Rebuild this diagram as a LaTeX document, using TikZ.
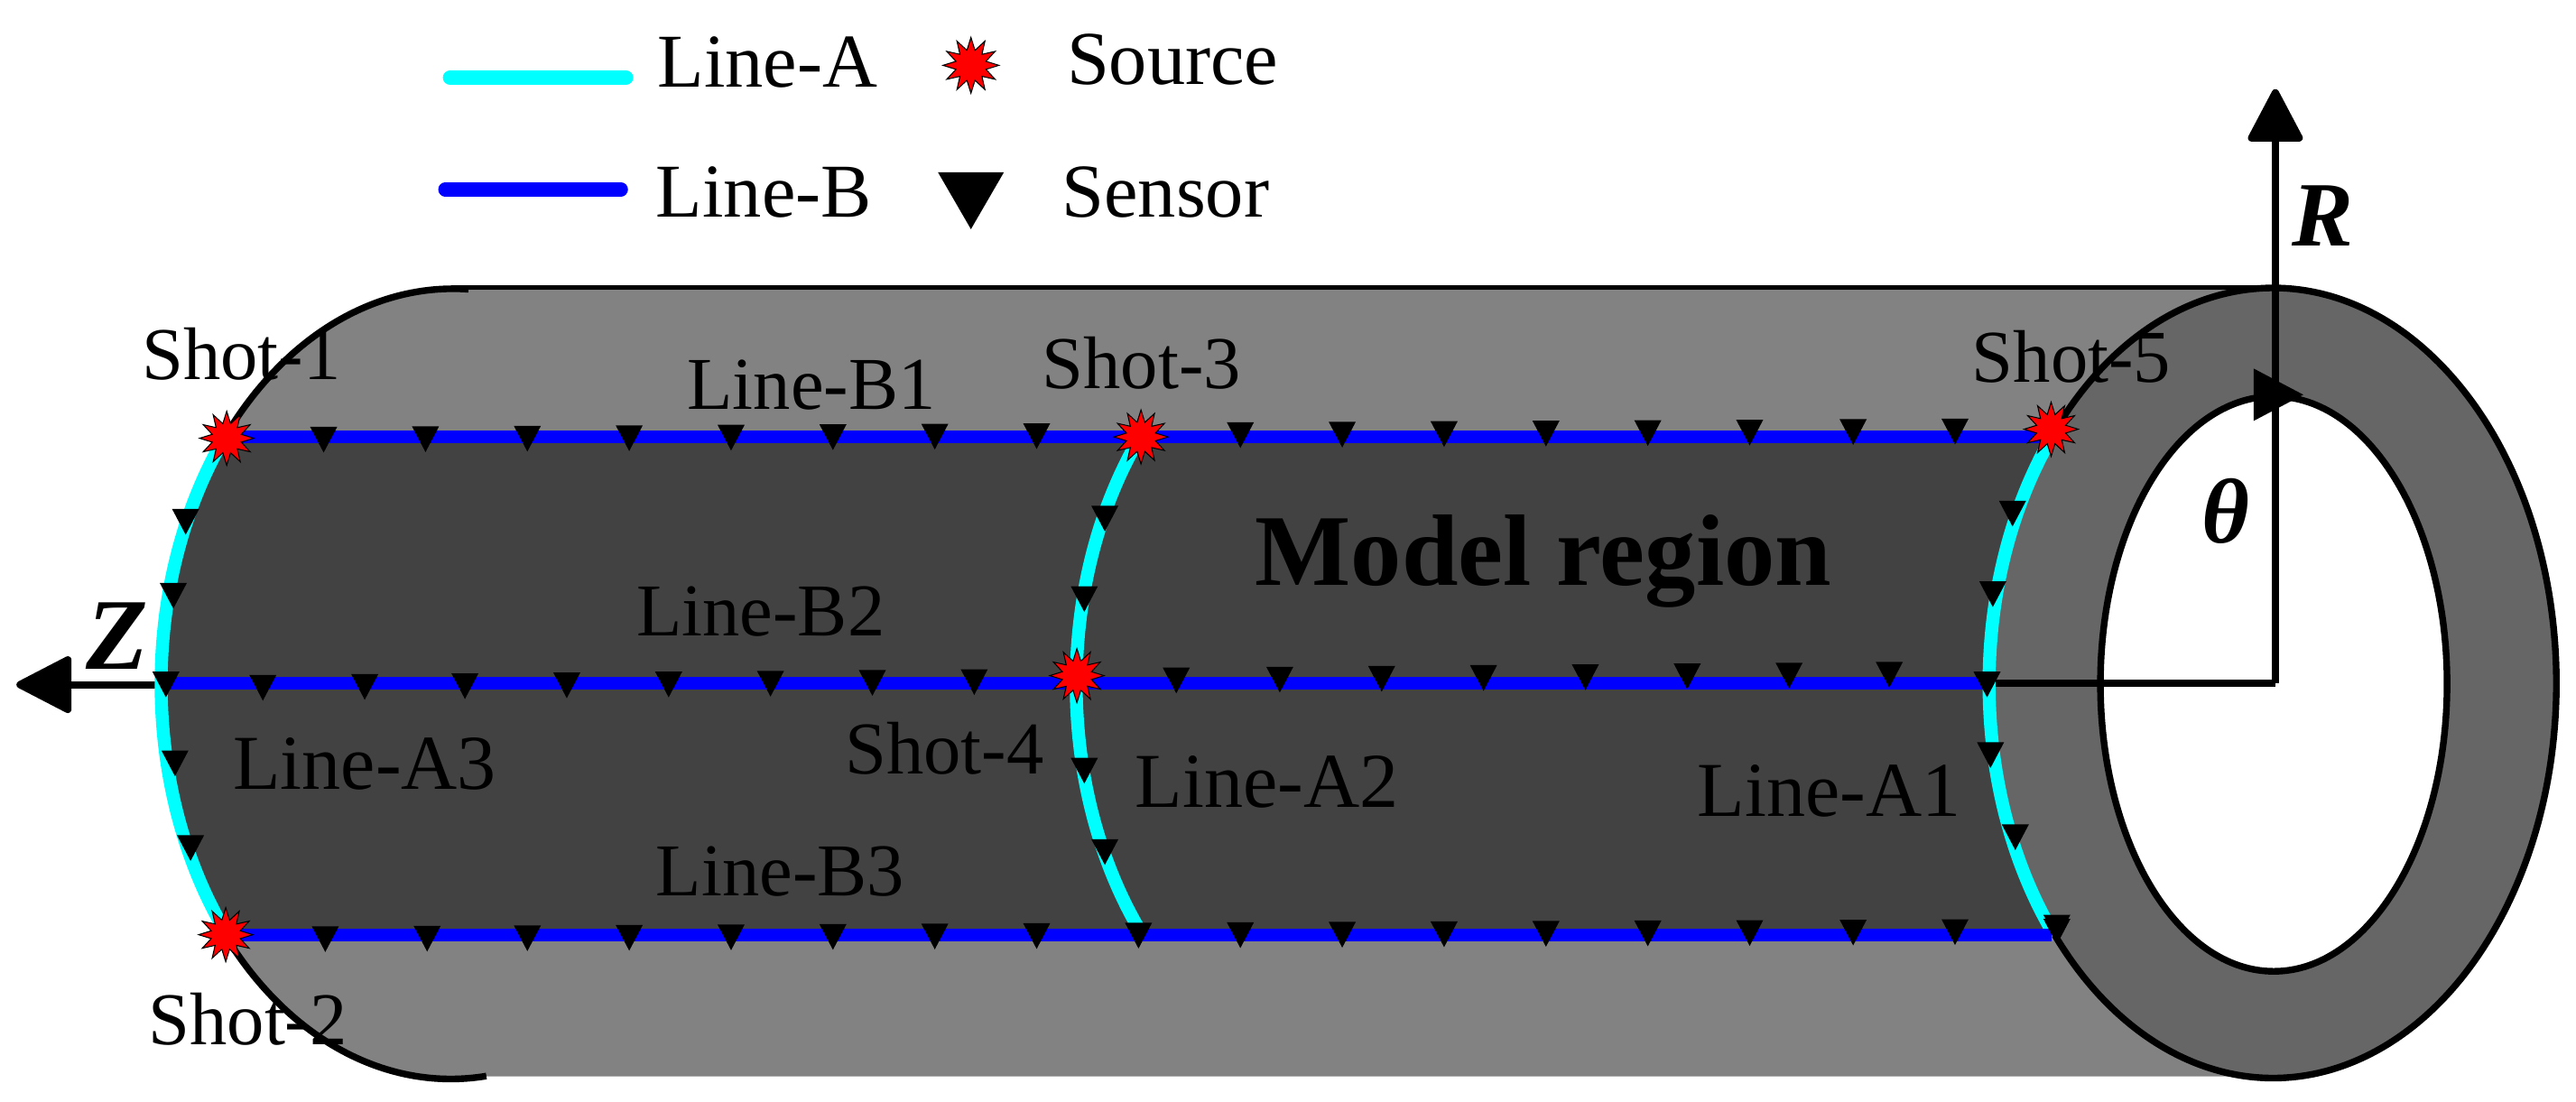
\documentclass[tikz,border=0pt]{standalone}
\usepackage{xcolor}
\usepackage{fontspec}
\setmainfont{Liberation Serif}
\usepackage{tikz}
\usetikzlibrary{shapes.geometric, arrows.meta}
\definecolor{bodygray}{HTML}{828282}
\definecolor{modelgray}{HTML}{424242}
\definecolor{ringgray}{HTML}{666666}
\definecolor{acyan}{HTML}{00FFFF}
\definecolor{bblue}{HTML}{0000FF}
\begin{document}
\begin{tikzpicture}[x=0.0182cm, y=0.0182cm]
    \tikzstyle{lbl} = [inner sep=0pt, anchor=base west, font=\fontsize{23.5}{28}\selectfont]
    \tikzstyle{lblwide} = [lbl, font=\fontsize{24.5}{28}\selectfont]
    \tikzstyle{lgd} = [lbl, font=\fontsize{24}{28}\selectfont]
    \tikzstyle{axislbl} = [inner sep=0pt, anchor=base west, font=\fontsize{29}{32}\selectfont\bfseries\itshape]
    \tikzstyle{sensor} = [isosceles triangle, isosceles triangle apex angle=60, isosceles triangle stretches, shape border rotate=270, minimum width=0.30cm, minimum height=0.285cm, inner sep=0pt, fill=black, anchor=apex]
    \tikzstyle{source} = [star, star points=12, star point ratio=1.8, minimum size=0.6cm, inner sep=0pt, fill=red, draw=black, line width=0.3pt]
    \tikzstyle{linea} = [acyan, line width=4.1pt]
    \tikzstyle{lineb} = [bblue, line width=4.1pt]
    \tikzstyle{edge} = [black, line width=2.1pt]
    \tikzstyle{axis} = [black, line width=2.3pt]
    \useasboundingbox (0,0) rectangle (1568,670.27);

    \coordinate (origin) at (1385,254.5);
    \coordinate (rtip) at (1385,616);
    \coordinate (zstart) at (98,253.5);
    \coordinate (ztip) at (10,253.5);
    \coordinate (aoneend) at (1211,254.5);
    \coordinate (bonel) at (137,404.5);
    \coordinate (boner) at (1249,404.5);
    \coordinate (btwol) at (99,254.5);
    \coordinate (btwor) at (1211,254.5);
    \coordinate (bthreel) at (137,101);
    \coordinate (bthreer) at (1249,101);
    \coordinate (lgal) at (274,623);
    \coordinate (lgar) at (381,623);
    \coordinate (lgbl) at (271,555);
    \coordinate (lgbr) at (378,555);

    \fill [bodygray] (275,495.2) -- (1385,495.2) -- (1385,15) -- (275,15) arc[start angle=270, end angle=90, x radius=178, y radius=240.2] -- cycle;
    \fill [modelgray] (bonel) arc[start angle=141.26, end angle=219.5, x radius=177, y radius=240.5] -- (bthreer) arc[start angle=219.5, end angle=141.26, x radius=174, y radius=240.5] -- cycle;

    \fill [ringgray] (1384,254.5) ellipse [x radius=172.5, y radius=240.5];
    \draw [edge, fill=white] (1384,254) ellipse [x radius=105.5, y radius=175];
    \draw [edge] (1249,405) arc[start angle=141.26, end angle=-140.5, x radius=172.5, y radius=240.5];
    \draw [edge] (bonel) arc[start angle=141.26, end angle=87, x radius=178, y radius=240.5];
    \draw [edge] (bthreel) arc[start angle=219.5, end angle=277, x radius=178, y radius=240.5];
    \draw [black, line width=1.4pt] (275,495.2) -- (1385,495.2);

    \draw [axis] (aoneend) -- (origin);
    \draw [axis, -{Triangle[round, length=0.63cm, width=0.64cm]}] (origin) -- (rtip);
    \draw [axis, -{Triangle[round, length=0.66cm, width=0.66cm]}] (zstart) -- (ztip);

    \draw [linea] (bonel) arc[start angle=141.26, end angle=219.5, x radius=177, y radius=240.5];
    \draw [linea] (694,404.5) arc[start angle=141.26, end angle=219.5, x radius=177, y radius=240.5];
    \draw [linea] (boner) arc[start angle=141.26, end angle=219.5, x radius=174, y radius=240.5];

    \draw [lineb] (bonel) -- (boner);
    \draw [lineb] (btwol) -- (btwor);
    \draw [lineb] (bthreel) -- (bthreer);

    \foreach \x in {197,259,321,383,445,507,569,631,755,817,879,941,1003,1065,1128,1190}
        \node (bo\x) [sensor] at ({\x},{394+0.005*(\x-197)}) {};
    \foreach \x in {160,222,283,345,407,469,531,593,716,779,841,903,965,1027,1089,1150}
        \node (bt\x) [sensor] at ({\x},{243+0.008*(\x-160)}) {};
    \foreach \x in {198,260,321,383,445,507,569,631,693,755,817,879,941,1003,1065,1128,1190,1252}
        \node (bh\x) [sensor] at ({\x},{90+0.0043*(\x-198)}) {};
    \foreach \n/\x/\y in {1/113/344,2/105.5/299,3/101/245,4/106.5/197,5/116/145.4}
        \node (athree\n) [sensor] at (\x,\y) {};
    \foreach \n/\x/\y in {1/672.5/346,2/660/297,3/660/192.5,4/672.5/143}
        \node (atwo\n) [sensor] at (\x,\y) {};
    \foreach \n/\x/\y in {1/1225/349,2/1213/300,3/1209.5/245,4/1211.6/202,5/1226.7/152,6/1252/97}
        \node (aone\n) [sensor] at (\x,\y) {};

    \node (shotone) [source] at (138,403.5) {};
    \node (shottwo) [source] at (137.4,101.3) {};
    \node (shotthree) [source] at (694.5,404.3) {};
    \node (shotfour) [source] at (655.5,259) {};
    \node (shotfive) [source] at (1248.5,409) {};

    \node (thetatip) [isosceles triangle, isosceles triangle stretches, fill=black, inner sep=0pt, minimum width=0.58cm, minimum height=0.55cm, anchor=apex] at (1403,430) {};

    \draw [linea, line cap=round, line width=4.6pt] (lgal) -- (lgar);
    \draw [lineb, line cap=round, line width=4.4pt] (lgbl) -- (lgbr);
    \node (lgsource) [source, minimum size=0.62cm] at (591,630.5) {};
    \node (lgsensor) [sensor, minimum width=0.73cm, minimum height=0.63cm] at (591,530) {};
    \node (lgatext) [lgd] at (400,617) {Line-A};
    \node (lgstext) [lgd] at (649,619) {Source};
    \node (lgbtext) [lgd] at (399,538) {Line-B};
    \node (lgntext) [lgd] at (646,538) {Sensor};

    \node (shotonetext) [lbl] at (86,439) {Shot-1};
    \node (shottwotext) [lbl] at (90,34.3) {Shot-2};
    \node (shotthreetext) [lbl] at (634,434) {Shot-3};
    \node (shotfourtext) [lbl] at (514,199) {Shot-4};
    \node (shotfivetext) [lbl] at (1200,437.4) {Shot-5};
    \node (bonetext) [lbl] at (418,421) {Line-B1};
    \node (btwotext) [lbl] at (387,283) {Line-B2};
    \node (bthreetext) [lbl] at (399,125) {Line-B3};
    \node (athreetext) [lblwide] at (141.5,190) {Line-A3};
    \node (atwotext) [lblwide] at (690.5,179) {Line-A2};
    \node (aonetext) [lblwide] at (1033,173.3) {Line-A1};
    \node (modeltext) [lbl, font=\fontsize{32}{36}\selectfont\bfseries] at (763.7,314) {Model region};
    \node (ztext) [axislbl, font=\fontsize{32}{36}\selectfont\bfseries\itshape] at (52,263) {Z};
    \node (rtext) [axislbl] at (1395,520.3) {R};
    \node (thetatext) [axislbl] at (1340,340) {θ};
\end{tikzpicture}
\end{document}
